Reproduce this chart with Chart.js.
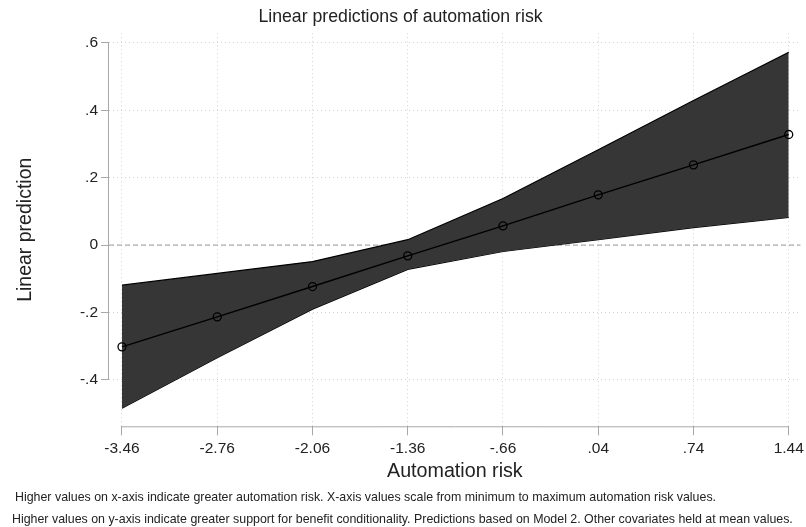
<!DOCTYPE html>
<html>
<head>
<meta charset="utf-8">
<script src="https://cdn.jsdelivr.net/npm/chart.js@4.4.1/dist/chart.umd.min.js"></script>
<style>
  body { margin: 0; background: #fff; }
  #wrap { position: relative; width: 806px; height: 527px; }
  .note { position: absolute; font-family: "Liberation Sans", Arial, sans-serif; font-size: 12.4px; color: #222; white-space: nowrap; }
</style>
</head>
<body>
<div id="wrap">
  <canvas id="chart" width="806" height="527"></canvas>
  <div class="note" style="left:15px; top:490px;">Higher values on x-axis indicate greater automation risk. X-axis values scale from minimum to maximum automation risk values.</div>
  <div class="note" style="left:12px; top:512px;">Higher values on y-axis indicate greater support for benefit conditionality. Predictions based on Model 2. Other covariates held at mean values.</div>
</div>
<script>
// automation risk values (x) and linear predictions with 95% CI
var xVals = [-3.46, -2.76, -2.06, -1.36, -0.66, 0.04, 0.74, 1.44];
var pred  = [-0.302, -0.213, -0.123, -0.032, 0.057, 0.149, 0.238, 0.328];
var upper = [-0.119, -0.084, -0.049, 0.016, 0.138, 0.283, 0.429, 0.572];
var lower = [-0.484, -0.334, -0.190, -0.072, -0.019, 0.016, 0.052, 0.082];
var yTicks = [-0.4, -0.2, 0, 0.2, 0.4, 0.6];

var xMin = -3.5555, xMax = 1.528;
var yMin = -0.5377, yMax = 0.6285;

const pts = (ys) => xVals.map((x, i) => ({x: x, y: ys[i]}));

// stata style labels: .6, -.2, -3.46
const fmt = (v) => String(+v.toFixed(2)).replace(/^(-?)0\./, '$1.');

const axisColor = '#a8a8a8';
const font = "'Liberation Sans', Arial, sans-serif";

// axis lines only span the first to last tick, like stata
var axisLines = {
    id: 'axisLines',
    afterDraw: function (chart) {
        var c = chart.ctx, xs = chart.scales.x, ys = chart.scales.y;
        var area = chart.chartArea;
        c.save();
        c.strokeStyle = axisColor;
        c.lineWidth = 1;
        c.beginPath();
        c.moveTo(xs.getPixelForValue(xVals[0]), area.bottom + 0.5);
        c.lineTo(xs.getPixelForValue(xVals[xVals.length - 1]), area.bottom + 0.5);
        c.moveTo(area.left - 0.5, ys.getPixelForValue(yTicks[0]));
        c.lineTo(area.left - 0.5, ys.getPixelForValue(yTicks[yTicks.length - 1]));
        c.stroke();
        c.restore();
    }
};

var ctx = document.getElementById('chart');

var chart = new Chart(ctx, {
    type: 'scatter',
    data: {
        datasets: [{
            data: [{x: xMin, y: 0}, {x: xMax, y: 0}],
            showLine: true,
            borderColor: '#9a9a9a',
            borderWidth: 1,
            borderDash: [5, 3],
            pointRadius: 0,
            order: 2
        }, {
            data: pts(upper),
            showLine: true,
            borderColor: '#000',
            borderWidth: 1.2,
            backgroundColor: '#363636',
            fill: '+1',
            pointRadius: 0,
            order: 1
        }, {
            data: pts(lower),
            showLine: true,
            borderColor: '#000',
            borderWidth: 1.2,
            pointRadius: 0,
            order: 1
        }, {
            data: pts(pred),
            showLine: true,
            borderColor: '#000',
            borderWidth: 1.5,
            pointRadius: 4,
            pointBorderWidth: 1.3,
            pointBorderColor: '#000',
            pointBackgroundColor: 'rgba(0,0,0,0)',
            order: 0
        }]
    },
    options: {
        responsive: false,
        animation: false,
        layout: { padding: { left: 0, right: 5, top: 0, bottom: 44 } },
        plugins: {
            legend: { display: false },
            tooltip: { enabled: false },
            title: {
                display: true,
                text: 'Linear predictions of automation risk',
                color: '#222',
                font: { family: font, size: 17.7, weight: 'normal' },
                padding: { top: 6, bottom: 6 }
            }
        },
        scales: {
            x: {
                type: 'linear',
                min: xMin,
                max: xMax,
                afterBuildTicks: (s) => { s.ticks = xVals.map(v => ({value: v})); },
                afterFit: (s) => { s.height = 56.7; s.paddingLeft = 0; s.paddingRight = 0; },
                ticks: {
                    color: '#222',
                    padding: 4,
                    maxRotation: 0,
                    font: { family: font, size: 15.5 },
                    callback: (v) => fmt(v)
                },
                grid: {
                    color: '#d2d2d2',
                    tickColor: axisColor,
                    tickLength: 9,
                    lineWidth: 1
                },
                border: { display: false, dash: [1, 3] },
                title: {
                    display: true,
                    text: 'Automation risk',
                    color: '#222',
                    font: { family: font, size: 19.7 },
                    padding: { top: 4, bottom: 0 }
                }
            },
            y: {
                min: yMin,
                max: yMax,
                afterBuildTicks: (s) => { s.ticks = yTicks.map(v => ({value: v})); },
                afterFit: (s) => { s.width = 109; s.paddingTop = 0; s.paddingBottom = 0; },
                ticks: {
                    color: '#222',
                    padding: 3,
                    font: { family: font, size: 15.5 },
                    callback: (v) => fmt(v)
                },
                grid: {
                    color: '#d2d2d2',
                    tickColor: axisColor,
                    tickLength: 8,
                    lineWidth: 1
                },
                border: { display: false, dash: [1, 3] },
                title: {
                    display: true,
                    text: 'Linear prediction',
                    color: '#222',
                    font: { family: font, size: 19.5 },
                    padding: { top: 14, bottom: 0 }
                }
            }
        }
    },
    plugins: [axisLines]
});
</script>
</body>
</html>
